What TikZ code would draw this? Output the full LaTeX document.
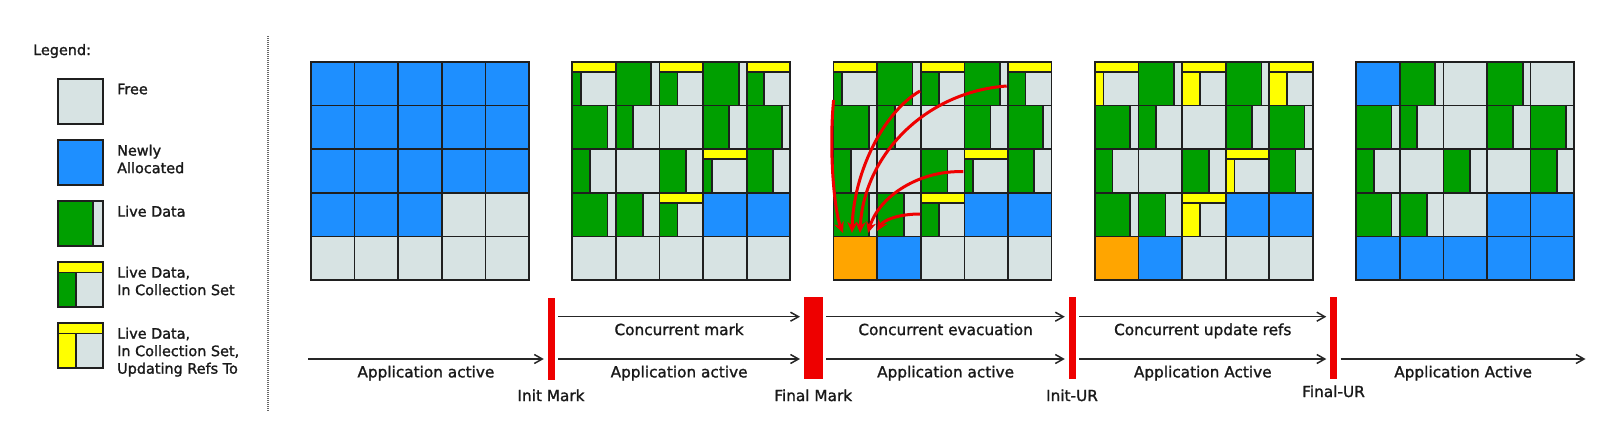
\documentclass[tikz,border=0pt]{standalone}
\usepackage{fontspec}
\setmainfont{DejaVu Sans}[FakeBold=1.4]
\usetikzlibrary{arrows.meta, positioning}

\definecolor{freegray}{HTML}{D7E3E3}
\definecolor{newblue}{HTML}{1E8FFF}
\definecolor{livegreen}{HTML}{009F00}
\definecolor{csetyellow}{HTML}{FFFF00}
\definecolor{evacorange}{HTML}{FFA500}
\definecolor{pausered}{HTML}{EE0000}

\newcommand{\regionsize}{43.6}
% region at column #1, row #2, filled with #3
\newcommand{\regfill}[3]{\draw[region, fill=#3] ({#1*\regionsize},{#2*\regionsize}) rectangle ++(\regionsize,\regionsize);}
% live data, #3 of the region wide
\newcommand{\reglive}[3]{\draw[region, fill=livegreen] ({#1*\regionsize},{#2*\regionsize}) rectangle ++({#3*\regionsize},\regionsize);}
% region in the collection set, live part #3 wide in colour #4
\newcommand{\regcset}[4]{%
  \draw[region, fill=csetyellow] ({#1*\regionsize},{#2*\regionsize}) rectangle ++(\regionsize,{0.23*\regionsize});
  \draw[region, fill=#4] ({#1*\regionsize},{(#2+0.23)*\regionsize}) rectangle ++({#3*\regionsize},{0.77*\regionsize});}
\newcommand{\freeheap}{\foreach \row in {0,...,4} \foreach \col in {0,...,4} {\regfill{\col}{\row}{freegray}}}
\newcommand{\liveregions}{%
  \foreach \col/\row/\wid in {1/0/0.81, 3/0/0.82, 0/1/0.81, 1/1/0.4, 3/1/0.6, 4/1/0.81,
                              0/2/0.4, 2/2/0.61, 4/2/0.6, 0/3/0.81, 1/3/0.62} {\reglive{\col}{\row}{\wid}}
  \regfill{3}{3}{newblue}
  \regfill{4}{3}{newblue}}
\newcommand{\csetregions}[1]{%
  \foreach \col/\row/\wid in {0/0/0.2, 2/0/0.41, 4/0/0.4, 3/2/0.2, 2/3/0.41} {\regcset{\col}{\row}{\wid}{#1}}}

\begin{document}
\begin{tikzpicture}[
    x=1pt, y=-1pt,
    region/.style={draw=black!88, line width=1.7pt},
    legtext/.style={font=\fontsize{14.4}{17.5}\selectfont, align=left, anchor=north west, inner sep=0pt, text=black!90},
    lbl/.style={font=\fontsize{15.3}{18}\selectfont, inner sep=0pt, text=black!90},
    stopbar/.style={fill=pausered, draw=none, inner sep=0pt, minimum height=82pt},
    flow/.style={-{Straight Barb[length=8pt, width=9pt]}, line width=1.5pt, black!85,
                 shorten <=3.5pt, shorten >=3.5pt},
    move/.style={-{Stealth[length=11pt, width=10pt]}, pausered, line width=3pt},
    sepline/.style={draw=black!60, line width=1.2pt, dash pattern=on 1pt off 1pt},
]
\useasboundingbox (0,0) rectangle (1613,429);

% Legend
\node[legtext, anchor=base west] (legtitle) at (33,55) {Legend:};
\begin{scope}[shift={(58,79)}, scale=1.032]
  \regfill{0}{0}{freegray}
\end{scope}
\begin{scope}[shift={(58,140)}, scale=1.032]
  \regfill{0}{0}{newblue}
\end{scope}
\begin{scope}[shift={(58,201)}, scale=1.032]
  \regfill{0}{0}{freegray}
  \reglive{0}{0}{0.78}
\end{scope}
\begin{scope}[shift={(58,262)}, scale=1.032]
  \regfill{0}{0}{freegray}
  \regcset{0}{0}{0.4}{livegreen}
\end{scope}
\begin{scope}[shift={(58,323)}, scale=1.032]
  \regfill{0}{0}{freegray}
  \regcset{0}{0}{0.4}{csetyellow}
\end{scope}
\node[legtext] (legfree) at (117,83.5) {Free};
\node[legtext] (legnew) at (117,144.5) {Newly\\Allocated};
\node[legtext] (leglive) at (117,205.5) {Live Data};
\node[legtext] (legcset) at (117,266.5) {Live Data,\\In Collection Set};
\node[legtext] (legur) at (117,327.5) {Live Data,\\In Collection Set,\\Updating Refs To};

\draw[sepline] (268,36) -- (268,412);

% Heap before the cycle
\begin{scope}[shift={(311,62)}]
  \freeheap
  \foreach \row in {0,1,2} \foreach \col in {0,...,4} {\regfill{\col}{\row}{newblue}}
  \foreach \col in {0,1,2} {\regfill{\col}{3}{newblue}}
\end{scope}

% After marking
\begin{scope}[shift={(572.3,62)}]
  \freeheap
  \liveregions
  \csetregions{livegreen}
\end{scope}

% Evacuation
\begin{scope}[shift={(833.6,62)}]
  \freeheap
  \liveregions
  \csetregions{livegreen}
  \regfill{0}{4}{evacorange}
  \regfill{1}{4}{newblue}
  \coordinate (ev1) at (0,38);
  \coordinate (ev2) at (86.4,29);
  \coordinate (ev3) at (173.1,24);
  \coordinate (ev4) at (129.7,109.7);
  \coordinate (ev5) at (86.4,152);
  \coordinate (to1) at (9.4,171);
  \coordinate (to2) at (18.4,171);
  \coordinate (to3) at (26.4,171);
  \coordinate (to4) at (34.4,171);
  \coordinate (to5) at (43.4,169);
  \draw[move] (ev1) .. controls (-5,90) and (1,150) .. (to1);
  \draw[move] (ev2) .. controls (50,50) and (20,110) .. (to2);
  \draw[move] (ev3) .. controls (90,30) and (30,95) .. (to3);
  \draw[move] (ev4) .. controls (85,108) and (45,135) .. (to4);
  \draw[move] (ev5) .. controls (65,152) and (50,158) .. (to5);
\end{scope}

% Updating references
\begin{scope}[shift={(1094.9,62)}]
  \freeheap
  \liveregions
  \csetregions{csetyellow}
  \regfill{0}{4}{evacorange}
  \regfill{1}{4}{newblue}
\end{scope}

% After the cycle
\begin{scope}[shift={(1356.2,62)}]
  \freeheap
  \liveregions
  \regfill{0}{0}{newblue}
  \foreach \col in {0,...,4} {\regfill{\col}{4}{newblue}}
\end{scope}

% Timeline
\node[stopbar, minimum width=7pt] (initmark) at (551,339) {};
\node[stopbar, minimum width=19pt] (finalmark) at (813.2,338) {};
\node[stopbar, minimum width=7pt] (initur) at (1072,338) {};
\node[stopbar, minimum width=7pt] (finalur) at (1333.5,338) {};

\node[lbl, below=9pt of initmark] (initlbl) {Init Mark};
\node[lbl, below=10pt of finalmark] (finallbl) {Final Mark};
\node[lbl, below=10pt of initur] (initurlbl) {Init-UR};
\node[lbl, below=6pt of finalur] (finalurlbl) {Final-UR};

\coordinate (appstart) at (304.5,359);
\coordinate (append) at (1589,359);
\coordinate (conc) at (0,316.7);

\draw[flow] (appstart) -- (initmark.west |- appstart)
  node[lbl, midway, below=6pt] (app1) {Application active};
\draw[flow] (initmark.east |- appstart) -- (finalmark.west |- appstart)
  node[lbl, midway, below=6pt] (app2) {Application active};
\draw[flow] (finalmark.east |- appstart) -- (initur.west |- appstart)
  node[lbl, midway, below=6pt] (app3) {Application active};
\draw[flow] (initur.east |- appstart) -- (finalur.west |- appstart)
  node[lbl, midway, below=6pt] (app4) {Application Active};
\draw[flow] (finalur.east |- appstart) -- (append)
  node[lbl, midway, below=6pt] (app5) {Application Active};

\draw[flow] (initmark.east |- conc) -- (finalmark.west |- conc)
  node[lbl, midway, below=6pt] (cmark) {Concurrent mark};
\draw[flow] (finalmark.east |- conc) -- (initur.west |- conc)
  node[lbl, midway, below=6pt] (cevac) {Concurrent evacuation};
\draw[flow] (initur.east |- conc) -- (finalur.west |- conc)
  node[lbl, midway, below=6pt] (cupdate) {Concurrent update refs};

\end{tikzpicture}
\end{document}
